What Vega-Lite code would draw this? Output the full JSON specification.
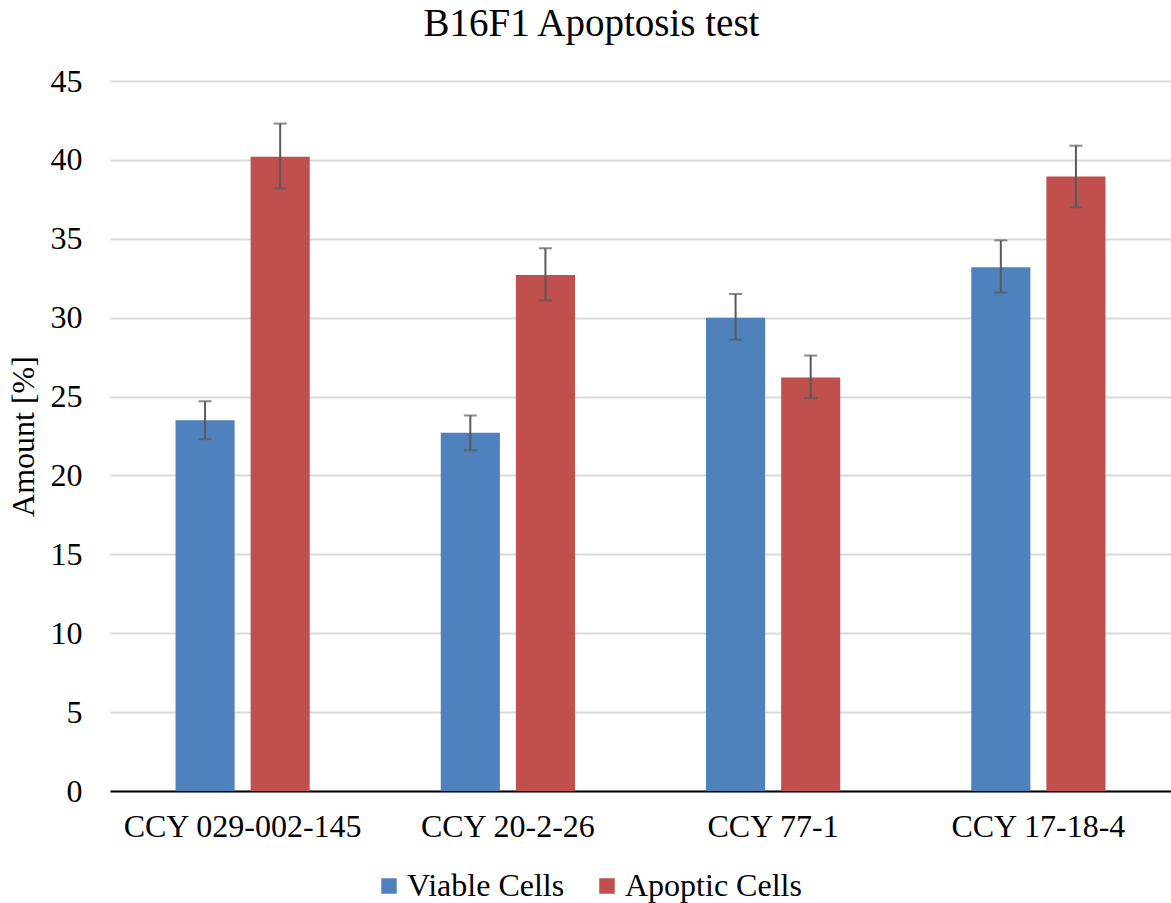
{
  "$schema": "https://vega.github.io/schema/vega-lite/v6.json",
  "autosize": "none",
  "width": 1061,
  "height": 710,
  "padding": {"left": 110, "top": 81, "right": 0, "bottom": 112},
  "background": "white",
  "title": {"text": "B16F1 Apoptosis test", "font": "Liberation Serif", "fontSize": 39, "fontWeight": "normal", "color": "#000000", "offset": 21, "dx": -49},
  "config": {
    "view": {"stroke": null},
    "font": "Liberation Serif"
  },
  "data": {"values": [
    {"compound": "CCY 029-002-145", "series": "Viable Cells", "value": 23.5, "lo": 22.3, "hi": 24.7},
    {"compound": "CCY 029-002-145", "series": "Apoptic Cells", "value": 40.2, "lo": 38.2, "hi": 42.3},
    {"compound": "CCY 20-2-26", "series": "Viable Cells", "value": 22.7, "lo": 21.6, "hi": 23.8},
    {"compound": "CCY 20-2-26", "series": "Apoptic Cells", "value": 32.7, "lo": 31.1, "hi": 34.4},
    {"compound": "CCY 77-1", "series": "Viable Cells", "value": 30.0, "lo": 28.6, "hi": 31.5},
    {"compound": "CCY 77-1", "series": "Apoptic Cells", "value": 26.2, "lo": 24.9, "hi": 27.6},
    {"compound": "CCY 17-18-4", "series": "Viable Cells", "value": 33.2, "lo": 31.6, "hi": 34.9},
    {"compound": "CCY 17-18-4", "series": "Apoptic Cells", "value": 38.95, "lo": 37.0, "hi": 40.9}
  ]},
  "encoding": {
    "x": {
      "field": "compound", "type": "nominal", "sort": null,
      "scale": {"paddingInner": 0.494, "paddingOuter": 0.247},
      "axis": {"title": null, "labelAngle": 0, "labelFont": "Liberation Serif", "labelFontSize": 32, "labelColor": "#000000", "labelPadding": 20, "labelLimit": 0, "ticks": false, "domainColor": "#000000", "domainWidth": 2, "grid": false}
    },
    "xOffset": {
      "field": "series", "type": "nominal", "sort": ["Viable Cells", "Apoptic Cells"],
      "scale": {"paddingInner": 0.213, "paddingOuter": 0}
    }
  },
  "layer": [
    {
      "mark": {"type": "bar"},
      "encoding": {
        "y": {
          "field": "value", "type": "quantitative",
          "scale": {"domain": [0, 45]},
          "axis": {"title": "Amount [%]", "titleFont": "Liberation Serif", "titleFontSize": 32, "titleFontWeight": "normal", "titleColor": "#000000", "titlePadding": 10, "values": [0, 5, 10, 15, 20, 25, 30, 35, 40, 45], "labelFont": "Liberation Serif", "labelFontSize": 32, "labelColor": "#000000", "labelPadding": 28, "ticks": false, "domain": false, "gridColor": "#d9d9d9", "gridWidth": 2}
        },
        "color": {
          "field": "series", "type": "nominal", "sort": ["Viable Cells", "Apoptic Cells"],
          "scale": {"domain": ["Viable Cells", "Apoptic Cells"], "range": ["#4f81bd", "#c0504d"]},
          "legend": {"title": null, "orient": "none", "legendX": 263, "legendY": 789, "direction": "horizontal", "symbolType": "square", "symbolSize": 240, "symbolStrokeWidth": 0, "labelFont": "Liberation Serif", "labelFontSize": 32, "labelColor": "#000000", "labelLimit": 0, "labelOffset": 2, "columnPadding": 26}
        }
      }
    },
    {
      "mark": {"type": "rule", "color": "#595959", "strokeWidth": 2},
      "encoding": {
        "y": {"field": "lo", "type": "quantitative"},
        "y2": {"field": "hi"}
      }
    },
    {
      "mark": {"type": "tick", "color": "#595959", "thickness": 2, "size": 13, "orient": "horizontal"},
      "encoding": {"y": {"field": "lo", "type": "quantitative"}}
    },
    {
      "mark": {"type": "tick", "color": "#595959", "thickness": 2, "size": 13, "orient": "horizontal"},
      "encoding": {"y": {"field": "hi", "type": "quantitative"}}
    }
  ]
}
